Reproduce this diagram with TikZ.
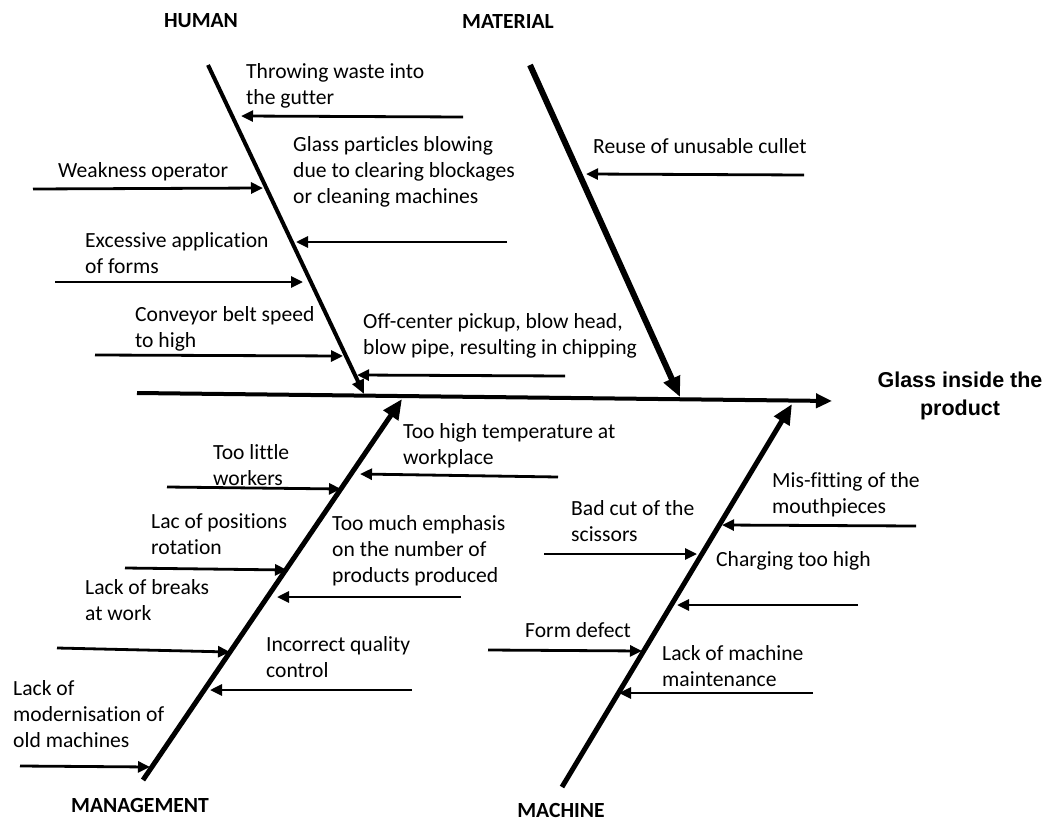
\documentclass[tikz,border=0pt]{standalone}
\usepackage{fontspec}
\setmainfont{Carlito}[Ligatures=NoCommon]
\newfontfamily\headfont{Liberation Sans}
\usetikzlibrary{arrows.meta}
\newcommand{\causefont}{\fontsize{21.6}{26}\selectfont}

\begin{document}
\begin{tikzpicture}[x=1pt, y=-1pt,
    cause/.style={anchor=west, align=left, inner sep=0pt, yshift=-1pt, font=\causefont},
    group/.style={inner sep=0pt, font=\causefont\bfseries},
    effect/.style={align=center, inner sep=0pt, font={\headfont\fontsize{21.5}{28}\selectfont\bfseries}},
    bone/.style={line width=5pt, -{Triangle[length=20pt,width=17pt]}},
    rib/.style={line width=2.8pt, -{Triangle[length=12pt,width=11pt]}}]
    \useasboundingbox (0,0) rectangle (1049,821);

    % 主干
    \coordinate (spine-a) at (137,393);
    \coordinate (spine-b) at (832,401);
    \draw[line width=4pt, -{Triangle[length=16pt,width=14pt]}] (spine-a) -- (spine-b);
    \node[effect] (effect) at (960,396) {Glass inside the\\product};

    % 人员
    \node[group] (human) at (201,21) {HUMAN};
    \coordinate (human-a) at (208,65);
    \coordinate (human-b) at (364,394);
    \draw[bone, line width=4pt, -{Triangle[length=14pt,width=12pt]}] (human-a) -- (human-b);

    \node[cause] (waste) at (246,85) {Throwing waste into\\the gutter};
    \coordinate (waste-a) at (463,117);
    \coordinate (waste-b) at (241,116);
    \draw[rib] (waste-a) -- (waste-b);

    \node[cause] (particles) at (293,171) {Glass particles blowing\\due to clearing blockages\\or cleaning machines};
    \coordinate (particles-a) at (507,242);
    \coordinate (particles-b) at (296,242);
    \draw[rib] (particles-a) -- (particles-b);

    \node[cause] (weak) at (58,171) {Weakness operator};
    \coordinate (weak-a) at (33,189);
    \coordinate (weak-b) at (263,188);
    \draw[rib] (weak-a) -- (weak-b);

    \node[cause] (forms) at (85,252) {Excessive application\\of forms};
    \coordinate (forms-a) at (55,282);
    \coordinate (forms-b) at (303,282);
    \draw[rib] (forms-a) -- (forms-b);

    \node[cause] (belt) at (135,328) {Conveyor belt speed\\to high};
    \coordinate (belt-a) at (95,355);
    \coordinate (belt-b) at (343,356);
    \draw[rib] (belt-a) -- (belt-b);

    \node[cause] (pickup) at (363,335) {Off-center pickup, blow head,\\blow pipe, resulting in chipping};
    \coordinate (pickup-a) at (565,376);
    \coordinate (pickup-b) at (357,375);
    \draw[rib] (pickup-a) -- (pickup-b);

    % 材料
    \node[group] (material) at (508,21) {MATERIAL};
    \coordinate (material-a) at (530,65);
    \coordinate (material-b) at (680,397);
    \draw[bone, line width=6pt] (material-a) -- (material-b);

    \node[cause] (cullet) at (593,145) {Reuse of unusable cullet};
    \coordinate (cullet-a) at (804,175);
    \coordinate (cullet-b) at (586,174);
    \draw[rib] (cullet-a) -- (cullet-b);

    % 管理
    \node[group] (management) at (140,805) {MANAGEMENT};
    \coordinate (management-a) at (143,780);
    \coordinate (management-b) at (402,399);
    \draw[bone] (management-a) -- (management-b);

    \node[cause] (temp) at (403,445) {Too high temperature at\\workplace};
    \coordinate (temp-a) at (558,477);
    \coordinate (temp-b) at (360,474);
    \draw[rib] (temp-a) -- (temp-b);

    \node[cause] (workers) at (213,464) {Too little\\workers};
    \coordinate (workers-a) at (167,487);
    \coordinate (workers-b) at (341,489);
    \draw[rib] (workers-a) -- (workers-b);

    \node[cause] (rotation) at (151,533) {Lac of positions\\rotation};
    \coordinate (rotation-a) at (125,568);
    \coordinate (rotation-b) at (287,570);
    \draw[rib] (rotation-a) -- (rotation-b);

    \node[cause] (emphasis) at (332,550) {Too much emphasis\\on the number of\\products produced};
    \coordinate (emphasis-a) at (461,597);
    \coordinate (emphasis-b) at (277,597);
    \draw[rib] (emphasis-a) -- (emphasis-b);

    \node[cause] (breaks) at (85,599) {Lack of breaks\\at work};
    \coordinate (breaks-a) at (57,648);
    \coordinate (breaks-b) at (230,652);
    \draw[rib] (breaks-a) -- (breaks-b);

    \node[cause] (quality) at (266,656) {Incorrect quality\\control};
    \coordinate (quality-a) at (412,690);
    \coordinate (quality-b) at (210,690);
    \draw[rib] (quality-a) -- (quality-b);

    \node[cause] (modern) at (13,713) {Lack of\\modernisation of\\old machines};
    \coordinate (modern-a) at (20,766);
    \coordinate (modern-b) at (150,767);
    \draw[rib] (modern-a) -- (modern-b);

    % 机器
    \node[group] (machine) at (561,810) {MACHINE};
    \coordinate (machine-a) at (562,787);
    \coordinate (machine-b) at (792,404);
    \draw[bone] (machine-a) -- (machine-b);

    \node[cause] (mouth) at (772,494) {Mis-fitting of the\\mouthpieces};
    \coordinate (mouth-a) at (916,526);
    \coordinate (mouth-b) at (722,525);
    \draw[rib] (mouth-a) -- (mouth-b);

    \node[cause] (scissors) at (571,520) {Bad cut of the\\scissors};
    \coordinate (scissors-a) at (544,554);
    \coordinate (scissors-b) at (697,554);
    \draw[rib] (scissors-a) -- (scissors-b);

    \node[cause] (charging) at (716,560) {Charging too high};
    \coordinate (charging-a) at (858,605);
    \coordinate (charging-b) at (677,605);
    \draw[rib] (charging-a) -- (charging-b);

    \node[cause] (form) at (525,629) {Form defect};
    \coordinate (form-a) at (488,650);
    \coordinate (form-b) at (642,651);
    \draw[rib] (form-a) -- (form-b);

    \node[cause] (upkeep) at (662,665) {Lack of machine\\maintenance};
    \coordinate (upkeep-a) at (813,693);
    \coordinate (upkeep-b) at (619,693);
    \draw[rib] (upkeep-a) -- (upkeep-b);
\end{tikzpicture}
\end{document}
